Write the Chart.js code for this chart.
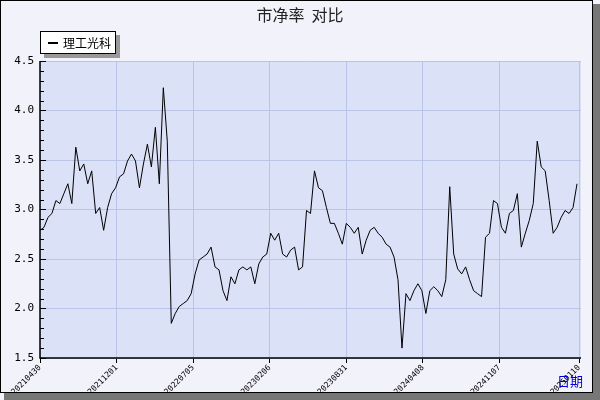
<!DOCTYPE html>
<html><head><meta charset="utf-8">
<script src="https://cdn.jsdelivr.net/npm/chart.js@4"></script>
<style>html,body{margin:0;padding:0;background:#fff}#w{width:600px;height:400px}</style>
</head><body><div id="w"><canvas id="c" width="600" height="400"></canvas></div>
<script>
const seriesName = '理工光科';
const tickLabels = ['20210430','20211201','20220705','20230206','20230831','20240408','20241107','20250110'];
const values = [
2.79,2.82,2.92,2.96,3.09,3.06,3.16,3.26,3.06,3.63,3.39,3.46,3.26,3.39,2.96,3.02,2.79,3.02,3.16,3.22,3.33,3.36,3.49,3.56,3.49,3.22,3.46,3.66,3.43,3.83,3.26,4.23,3.69,1.85,1.95,2.02,2.05,2.08,2.15,2.35,2.49,2.52,2.55,2.62,2.42,2.39,2.18,
2.08,2.32,2.25,2.39,2.42,2.39,2.42,2.25,2.45,2.52,2.55,2.76,2.69,2.76,2.55,2.52,2.59,2.62,2.39,2.42,2.99,2.96,3.39,3.22,3.19,3.02,2.86,2.86,2.76,2.65,2.86,2.82,2.76,2.82,2.55,2.69,2.79,2.82,2.76,2.72,2.65,2.62,2.52,2.29,1.6,
2.15,2.08,2.18,2.25,2.18,1.95,2.18,2.22,2.18,2.12,2.29,3.23,2.55,2.40,2.35,2.42,2.29,2.18,2.15,2.12,2.72,2.76,3.09,3.06,2.82,2.76,2.96,2.99,3.16,2.62,2.76,2.89,3.06,3.69,3.43,3.39,3.09,2.76,2.82,2.92,2.99,2.96,3.02,3.26
];
const tickStep = 19.25;
const pts = values.map((v,i)=>({x:i,y:v}));

const deco = {
  id:'deco',
  beforeDraw(ch){
    const c=ch.ctx;
    c.save();
    c.fillStyle='#f2f2fa';c.fillRect(0,0,600,400);
    c.fillStyle='#dbe1f7';const a=ch.chartArea;c.fillRect(a.left,a.top,a.right-a.left,a.bottom-a.top);
    c.restore();
  },
  afterDraw(ch){
    const c=ch.ctx,a=ch.chartArea,y=ch.scales.y;
    c.save();
    c.fillStyle='#777';c.fillRect(4,393,596,7);c.fillRect(593,4,7,396);
    c.strokeStyle='#000';c.lineWidth=1;c.strokeRect(0.5,0.5,592,392);
    c.beginPath();
    for(let v=1.5;v<=4.5001;v+=0.1){const p=Math.round(y.getPixelForValue(v))+0.5;const major=Math.abs(v*2-Math.round(v*2))<1e-6;c.moveTo(a.left,p);c.lineTo(a.left+(major?6:4),p);}
    c.stroke();
    c.lineWidth=1.5;c.beginPath();c.moveTo(a.left,a.top);c.lineTo(a.left,a.bottom);c.lineTo(a.right,a.bottom);c.stroke();
    c.fillStyle='#222';c.font='16px "Noto Sans CJK SC"';c.textAlign='center';c.textBaseline='middle';
    c.fillText('市净率  对比',300,15);
    c.fillStyle='#999';c.fillRect(44,35,76,23);
    c.fillStyle='#fff';c.fillRect(40,31,76,23);
    c.strokeStyle='#000';c.lineWidth=1;c.strokeRect(40.5,31.5,75,22);
    c.lineWidth=2;c.beginPath();c.moveTo(48,43);c.lineTo(58,43);c.stroke();
    c.fillStyle='#000';c.font='12px "Noto Sans CJK SC"';c.textAlign='left';
    c.fillText(seriesName,63,43);
    c.fillStyle='#0000dd';c.font='13px "Noto Sans CJK SC"';c.textAlign='center';
    c.fillText('日期',570,381);
    c.restore();
  }
};

new Chart(document.getElementById('c'),{
  type:'line',
  data:{datasets:[{label:seriesName,data:pts,borderColor:'#000',borderWidth:1,pointRadius:0,tension:0,fill:false}]},
  options:{
    responsive:false,animation:false,
    layout:{padding:{top:61,right:19,left:0,bottom:0}},
    plugins:{legend:{display:false},tooltip:{enabled:false},title:{display:false}},
    scales:{
      x:{type:'linear',min:0,max:136,
        afterFit(s){s.height=42;},
        afterBuildTicks(s){s.ticks=tickLabels.map((t,i)=>({value:i*tickStep+(i===tickLabels.length-1?0.8:0)}));},
        ticks:{autoSkip:false,maxRotation:45,minRotation:45,color:'#000',font:{family:'DejaVu Sans Mono',size:8},padding:0,
          callback:(v,i)=>tickLabels[i]},
        grid:{color:'#b9c4e6',lineWidth:1,tickLength:5,tickColor:'#000'},border:{display:false}},
      y:{min:1.5,max:4.5,
        afterFit(s){s.width=40;},
        ticks:{stepSize:0.5,color:'#000',font:{family:'DejaVu Sans Mono',size:11},padding:6,callback:v=>v.toFixed(1)},
        grid:{color:'#b9c4e6',lineWidth:1,tickLength:0},border:{display:false}}
    }
  },
  plugins:[deco]
});
</script></body></html>
